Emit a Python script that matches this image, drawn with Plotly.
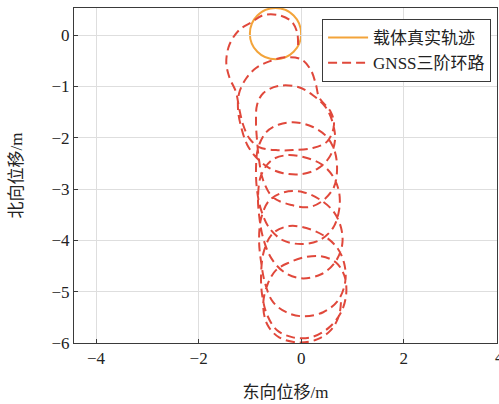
import plotly.graph_objects as go

# Reference (true) carrier trajectory: circle centre and radius, metres
true_center_e = -0.5
true_center_n = 0.03
true_radius = 0.5

# GNSS third-order loop estimate, east / north positions in metres
gnss_e = [
    -0.06, -0.08, -0.19, -0.43, -0.74, -0.97, -1.21, -1.40, -1.46, -1.40, -1.27, -1.21, -1.13, -1.01, -0.82,
    -0.49, -0.16, 0.23, 0.51, 0.64, 0.58, 0.35, 0.29, 0.19, 0.00,
    -0.29, -0.62, -0.88, -1.07, -1.21, -1.23, -1.17, -1.05, -0.86, -0.62, -0.35, 0.00, 0.31, 0.55, 0.66,
    0.62, 0.49, 0.23, -0.06,
    -0.45, -0.74, -0.86, -0.88, -0.86, -0.82, -0.74, -0.55, -0.19, 0.16, 0.43, 0.64, 0.70, 0.66, 0.51,
    0.23, -0.10,
    -0.43, -0.68, -0.84, -0.88, -0.86, -0.78, -0.62, -0.35, 0.00, 0.35, 0.62, 0.74, 0.74, 0.62, 0.39, 0.06,
    -0.29, -0.58, -0.78, -0.84, -0.82, -0.74, -0.58, -0.33, 0.00, 0.39, 0.66, 0.80, 0.78, 0.64, 0.39, 0.04,
    -0.33, -0.62, -0.78, -0.82, -0.78, -0.70, -0.55, -0.29, 0.04, 0.43, 0.72, 0.86, 0.84, 0.70, 0.43, 0.10,
    -0.23, -0.55, -0.72, -0.78, -0.76, -0.66, -0.47, -0.16, 0.19, 0.53, 0.78, 0.88, 0.84, 0.68, 0.39, 0.06,
    -0.23, -0.49, -0.66, -0.74, -0.66, -0.43, -0.04, 0.31, 0.58, 0.74, 0.78,
]
gnss_n = [
    -0.19, 0.06, 0.27, 0.39, 0.39, 0.25, 0.10, -0.19, -0.53, -0.82, -1.11, -1.42, -1.75, -2.01, -2.18,
    -2.24, -2.24, -2.20, -2.07, -1.75, -1.50, -1.21, -0.97, -0.68, -0.47,
    -0.43, -0.51, -0.64, -0.84, -1.13, -1.46, -1.79, -2.14, -2.40, -2.59, -2.69, -2.71, -2.61, -2.38, -2.05,
    -1.72, -1.42, -1.17, -1.01,
    -0.99, -1.13, -1.36, -1.70, -2.05, -2.44, -2.83, -3.16, -3.31, -3.35, -3.22, -2.96, -2.63, -2.28, -1.99,
    -1.79, -1.70,
    -1.74, -1.89, -2.20, -2.59, -3.02, -3.41, -3.76, -4.00, -4.07, -4.00, -3.76, -3.41, -3.06, -2.75, -2.51, -2.38,
    -2.34, -2.44, -2.73, -3.12, -3.51, -3.96, -4.35, -4.62, -4.74, -4.66, -4.43, -4.09, -3.76, -3.45, -3.22, -3.06,
    -3.06, -3.22, -3.57, -4.00, -4.43, -4.85, -5.20, -5.40, -5.48, -5.40, -5.17, -4.81, -4.45, -4.14, -3.90, -3.76,
    -3.72, -3.86, -4.19, -4.62, -5.07, -5.46, -5.75, -5.89, -5.89, -5.71, -5.40, -5.03, -4.68, -4.43, -4.31, -4.33,
    -4.43, -4.58, -4.87, -5.26, -5.64, -5.89, -5.99, -5.93, -5.75, -5.46, -5.13,
]

x_ticks = [-4, -2, 0, 2, 4]
y_ticks = [0, -1, -2, -3, -4, -5, -6]

series_names = ["载体真实轨迹", "GNSS三阶环路"]
orange = "#F3A43A"
red = "#E0483B"

font_family = "Liberation Serif, Noto Sans CJK SC, serif"
x_min, x_max = -4.43, 3.82

fig = go.Figure()

# true trajectory: legend entry, circle itself drawn as a data-space shape
fig.add_trace(go.Scatter(
    x=[None], y=[None], mode="lines", name=series_names[0],
    line=dict(color=orange, width=2),
))
fig.add_trace(go.Scatter(
    x=gnss_e, y=gnss_n, mode="lines", name=series_names[1],
    line=dict(color=red, width=2, dash="9px,5px", shape="spline", smoothing=1.0),
))

fig.add_shape(
    type="circle", xref="x", yref="y",
    x0=true_center_e - true_radius, x1=true_center_e + true_radius,
    y0=true_center_n - true_radius, y1=true_center_n + true_radius,
    line=dict(color=orange, width=2), layer="below",
)

axis_common = dict(
    showgrid=True, gridcolor="#DEDEDE", gridwidth=1,
    zeroline=False, showline=True, linecolor="#3A3A3A", linewidth=1,
    mirror=True, ticks="inside", ticklen=4, tickcolor="#3A3A3A",
    tickfont=dict(size=17, family=font_family, color="#222"),
)

# a tick just past the right edge of the axes still gets its label, clipped by the page edge
for xv in x_ticks:
    if xv > x_max:
        fig.add_annotation(
            x=(xv - x_min) / (x_max - x_min), xref="paper",
            y=0, yref="paper", yanchor="top", yshift=-3,
            text=f"{xv:g}", showarrow=False,
            font=dict(size=17, family=font_family, color="#222"),
        )

fig.update_layout(
    width=499, height=404,
    margin=dict(l=74, r=2, t=8, b=61),
    paper_bgcolor="white", plot_bgcolor="white",
    font=dict(family=font_family, color="#222"),
    xaxis=dict(
        range=[x_min, x_max], tickvals=x_ticks,
        title=dict(text="东向位移/m", font=dict(size=17, family=font_family), standoff=18),
        **axis_common,
    ),
    yaxis=dict(
        range=[-6.0, 0.53], tickvals=y_ticks,
        title=dict(text="北向位移/m", font=dict(size=17, family=font_family), standoff=24),
        **axis_common,
    ),
    legend=dict(
        x=0.986, y=0.967, xanchor="right", yanchor="top",
        bgcolor="white", bordercolor="#3A3A3A", borderwidth=1,
        font=dict(size=17, family=font_family, color="#222"),
        tracegroupgap=0, itemwidth=40,
    ),
    showlegend=True,
)

fig.write_html("out.html")
